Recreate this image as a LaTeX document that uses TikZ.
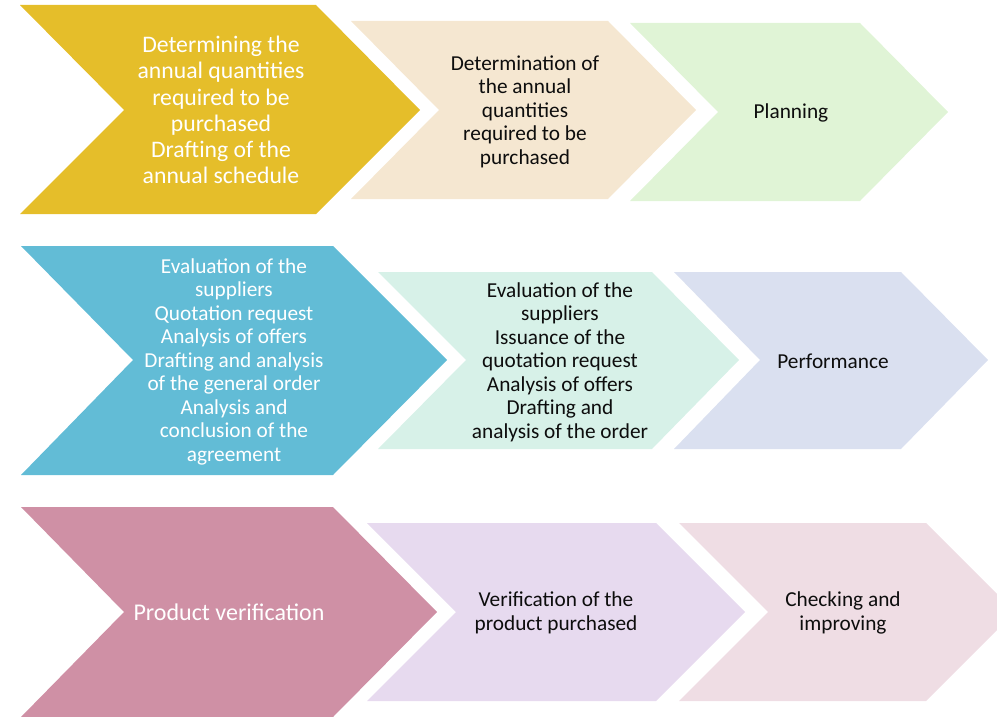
\documentclass[tikz,border=0pt]{standalone}
\usepackage{fontspec}
\setmainfont{Carlito}
\definecolor{cgold}{HTML}{E5BE2A}
\definecolor{cbeige}{HTML}{F5E7D1}
\definecolor{cgreen}{HTML}{E0F4D6}
\definecolor{cblue}{HTML}{62BCD6}
\definecolor{cmint}{HTML}{D7F1E8}
\definecolor{cperi}{HTML}{DAE0F0}
\definecolor{cpink}{HTML}{CF90A5}
\definecolor{clav}{HTML}{E7DAEF}
\definecolor{clpink}{HTML}{EFDDE4}
\tikzset{
  lbl/.style={align=center, inner sep=0pt, text=black!95, font=\fontsize{21.3}{23.5}\selectfont},
  lblw/.style={lbl, text=white},
  lblbig/.style={lblw, font=\fontsize{23.7}{26.2}\selectfont},
}
% \mychev{left}{top}{shoulder}{tip}{bottom}{notch}{mid}{colour}
\newcommand{\mychev}[8]{\fill[#8] (#1,#2) -- (#3,#2) -- (#4,#7) -- (#3,#5) -- (#1,#5) -- (#6,#7) -- cycle;}
\begin{document}
\begin{tikzpicture}[x=1pt,y=-1pt]
\useasboundingbox (0,0) rectangle (997,717);
\clip (0,0) rectangle (997,717);
% Row 1
\mychev{20}{5}{316}{420}{214}{124}{110}{cgold}
\mychev{351}{21}{608}{696}{199}{439}{110}{cbeige}
\mychev{630}{23}{860}{948}{201}{718}{112}{cgreen}
% Row 2
\mychev{21}{246}{333}{447}{475}{133}{360}{cblue}
\mychev{378}{272}{652}{739}{449}{466}{360}{cmint}
\mychev{674}{272}{901}{988}{449}{760}{360}{cperi}
% Row 3
\mychev{21}{507}{333}{437}{717}{124}{612}{cpink}
\mychev{367}{523}{656}{745}{701}{456}{612}{clav}
\mychev{679}{523}{926}{1015}{701}{768}{612}{clpink}
% Labels
\node[lblbig] (t11) at (221,110) {Determining the\\annual quantities\\required to be\\purchased\\Drafting of the\\annual schedule};
\node[lbl] (t12) at (525,111.5) {Determination of\\the annual\\quantities\\required to be\\purchased};
\node[lbl] (t13) at (791,113) {Planning};
\node[lblw] (t21) at (234,361.5) {Evaluation of the\\suppliers\\Quotation request\\Analysis of offers\\Drafting and analysis\\of the general order\\Analysis and\\conclusion of the\\agreement};
\node[lbl] (t22) at (560,362) {Evaluation of the\\suppliers\\Issuance of the\\quotation request\\Analysis of offers\\Drafting and\\analysis of the order};
\node[lbl] (t23) at (833,361) {Performance};
\node[lblw, font=\fontsize{24}{28}\selectfont] (t31) at (229,612) {Product verification};
\node[lbl] (t32) at (556,613) {Verification of the\\product purchased};
\node[lbl] (t33) at (843,613) {Checking and\\improving};
\end{tikzpicture}
\end{document}
